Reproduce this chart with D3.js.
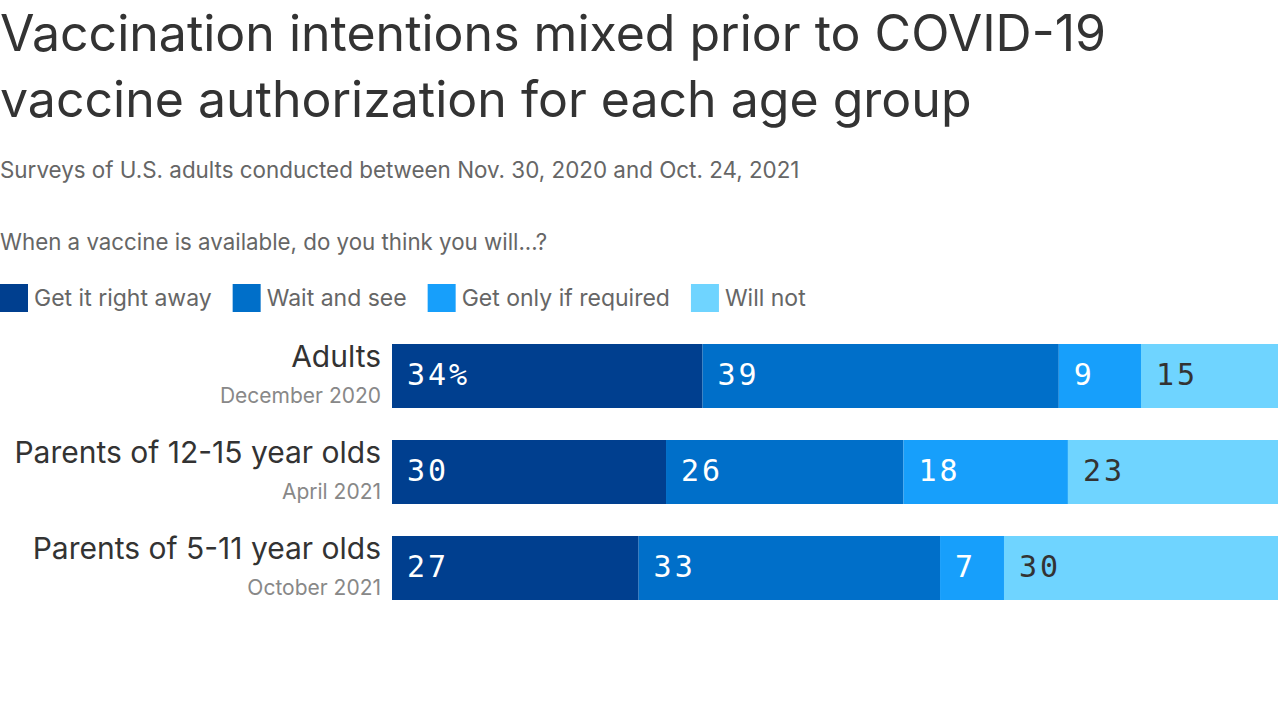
<!DOCTYPE html>
<html><head><meta charset="utf-8">
<script src="https://cdn.jsdelivr.net/npm/d3@7"></script>
<style>
body{margin:0;background:#fff;}
svg{display:block;}
</style></head>
<body>
<svg id="chart" width="1280" height="720"></svg>
<script>
const titleLines = ["Vaccination intentions mixed prior to COVID-19", "vaccine authorization for each age group"];
const subtitle = "Surveys of U.S. adults conducted between Nov. 30, 2020 and Oct. 24, 2021";
const question = "When a vaccine is available, do you think you will...?";
const seriesNames = ["Get it right away", "Wait and see", "Get only if required", "Will not"];
const seriesColors = ["#003f8f", "#006fc9", "#179ffb", "#6fd4ff"];
const labelColors = ["#ffffff", "#ffffff", "#ffffff", "#333333"];
const groups = ["Adults", "Parents of 12-15 year olds", "Parents of 5-11 year olds"];
const groupDates = ["December 2020", "April 2021", "October 2021"];
const rightAway = [34, 30, 27];
const waitAndSee = [39, 26, 33];
const onlyIfRequired = [9, 18, 7];
const willNot = [15, 23, 30];

const svg = d3.select("#chart");
const sans = "Inter, 'Noto Sans', sans-serif";

const t = svg.append("text").attr("font-family", sans).attr("font-size", 50).attr("fill", "#333");
titleLines.forEach((l, i) => t.append("tspan").attr("x", 0).attr("y", 51 + i * 66).text(l));

svg.append("text").attr("x", 0).attr("y", 178).attr("font-family", sans).attr("font-size", 22.4).attr("fill", "#666").text(subtitle);
svg.append("text").attr("x", 0).attr("y", 250).attr("font-family", sans).attr("font-size", 22.3).attr("fill", "#666").text(question);

// legend
let lx = 0;
const leg = svg.append("g");
seriesNames.forEach((n, i) => {
  const g = leg.append("g").attr("transform", `translate(${lx},284)`);
  g.append("rect").attr("width", 28).attr("height", 28).attr("fill", seriesColors[i]);
  const tx = g.append("text").attr("x", 34).attr("y", 22).attr("font-family", sans).attr("font-size", 23).attr("fill", "#666").text(n);
  lx += 34 + tx.node().getComputedTextLength() + 21;
});

const rows = groups.map((g, i) => ({group: g, date: groupDates[i], values: [rightAway[i], waitAndSee[i], onlyIfRequired[i], willNot[i]]}));
const totalMax = d3.max(rows, r => d3.sum(r.values));
const x = d3.scaleLinear().domain([0, totalMax]).range([392, 1278]);
const y = d3.scaleBand().domain(groups).range([344, 600]).paddingInner(1 / 3).paddingOuter(0);

rows.forEach((r, ri) => {
  const yy = y(r.group);
  const bh = y.bandwidth();
  let cum = 0;
  r.values.forEach((v, si) => {
    svg.append("rect").attr("x", x(cum)).attr("y", yy).attr("width", x(cum + v) - x(cum)).attr("height", bh).attr("fill", seriesColors[si]);
    svg.append("text").attr("x", x(cum) + 15).attr("y", yy + 41)
      .attr("font-family", "'DejaVu Sans Mono', monospace").attr("font-size", 30).attr("letter-spacing", 3)
      .attr("fill", labelColors[si]).text(ri === 0 && si === 0 ? v + "%" : v);
    cum += v;
  });
  svg.append("text").attr("x", 381).attr("y", yy + 23).attr("text-anchor", "end").attr("font-family", sans).attr("font-size", 30).attr("fill", "#333").text(r.group);
  svg.append("text").attr("x", 381).attr("y", yy + 59).attr("text-anchor", "end").attr("font-family", sans).attr("font-size", 21).attr("fill", "#888").text(r.date);
});
</script>
</body></html>
